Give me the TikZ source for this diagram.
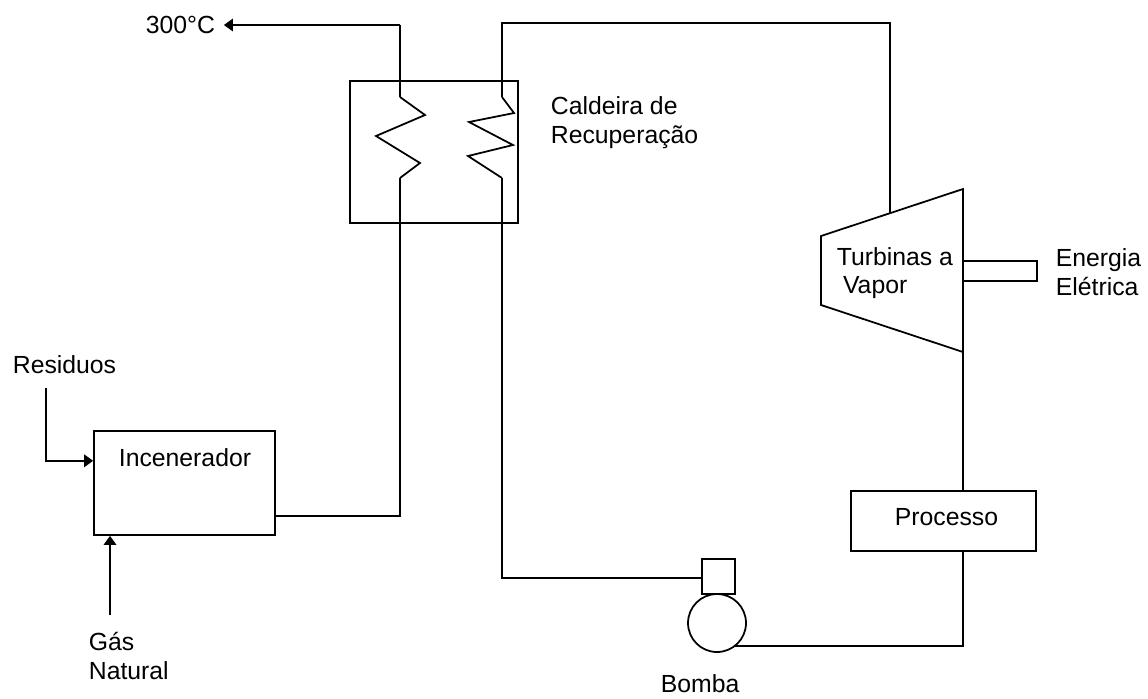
\documentclass[tikz,border=0pt]{standalone}
\usepackage{fontspec}
\setmainfont{Liberation Sans}
\usetikzlibrary{arrows.meta,positioning,calc}

\begin{document}
\begin{tikzpicture}[x=0.02cm,y=-0.02cm,
  line width=1pt,
  block/.style={draw,inner sep=0pt,fill=white,minimum width=#1},
  block/.default=3.62cm,
  lab/.style={font=\fontsize{14.1}{16.4}\selectfont,inner sep=0pt,align=left,anchor=west},
  feed/.style={-{Triangle[length=1.8mm,width=2.5mm]}}]
\useasboundingbox (0,0) rectangle (1148,698);
% blocks
\node[block,minimum height=2.08cm] (inc) at (184.5,483) {};
\node[block=3.36cm,minimum height=2.84cm,fill=none] (cald) at (434,152) {};
\node[block=3.7cm,minimum height=1.2cm] (proc) at (943.5,521) {};
\node[draw,circle,inner sep=0pt,minimum size=1.16cm] (circ) at (717,623) {};
\node[block=0.66cm,minimum height=0.7cm] (sq) at (718.5,576.5) {};
% turbine
\coordinate (t1) at (821,236);
\coordinate (t2) at (963,189);
\coordinate (t3) at (963,352);
\coordinate (t4) at (821,305);
\draw (t1) -- (t2) -- (t3) -- (t4) -- cycle;
\coordinate (tin) at (890,213);
\coordinate (s1) at (963,261);
\coordinate (s2) at (1037,261);
\coordinate (s3) at (1037,281);
\coordinate (s4) at (963,281);
\draw (s1) -- (s2) -- (s3) -- (s4);
% gas side coil
\coordinate (g1) at (400,97);
\coordinate (g2) at (425,115);
\coordinate (g3) at (376,136);
\coordinate (g4) at (420,163);
\coordinate (g5) at (400,178);
\coordinate (gt) at (400,25);
\coordinate (gb) at (400,516);
\draw (g1) -- (g2) -- (g3) -- (g4) -- (g5);
% water side coil
\coordinate (w1) at (502,97);
\coordinate (w2) at (514,113);
\coordinate (w3) at (469,122);
\coordinate (w4) at (513,145);
\coordinate (w5) at (468,156);
\coordinate (w6) at (502,178);
\coordinate (wt) at (502,23);
\coordinate (wb) at (502,578);
\coordinate (pb) at (963,646);
\coordinate (resin) at (46,388);
\coordinate (gasin) at (110,615);
\draw (w1) -- (w2) -- (w3) -- (w4) -- (w5) -- (w6);
% labels
\node[lab] (tout) at (145,25) {300°C};
\node[lab] (lcald) at (550,123) {Caldeira de\\Recuperação};
\node[lab] (lturb) at (836,273) {Turbinas a\\\hspace*{3.5pt}Vapor};
\node[lab] (lenerg) at (1055,272) {Energia\\Elétrica};
\node[lab] (lres) at (12,365) {Residuos};
\node[lab] (lgas) at (88,656) {Gás\\Natural};
\node[lab] (lbom) at (660,684) {Bomba};
\node[lab] (linc) at (118,458) {Incenerador};
\node[lab] (lproc) at (894,517) {Processo};
% connectors
\draw[feed] (gt) -- ($(tout.east)+(8,0)$);
\draw (g1) -- (gt);
\draw (g5) -- (gb) -- (inc.east |- gb);
\draw (w1) -- (wt) -| (tin);
\draw (w6) -- (wb) -- (sq.west |- wb);
\draw (t3) -- (t3 |- proc.north);
\draw (proc.south -| t3) -- (pb) -- (pb -| circ.-52);
\draw[feed] (resin) |- ($(inc.north west)!0.29!(inc.south west)$);
\draw[feed] (gasin) -- (gasin |- inc.south);
\end{tikzpicture}
\end{document}
